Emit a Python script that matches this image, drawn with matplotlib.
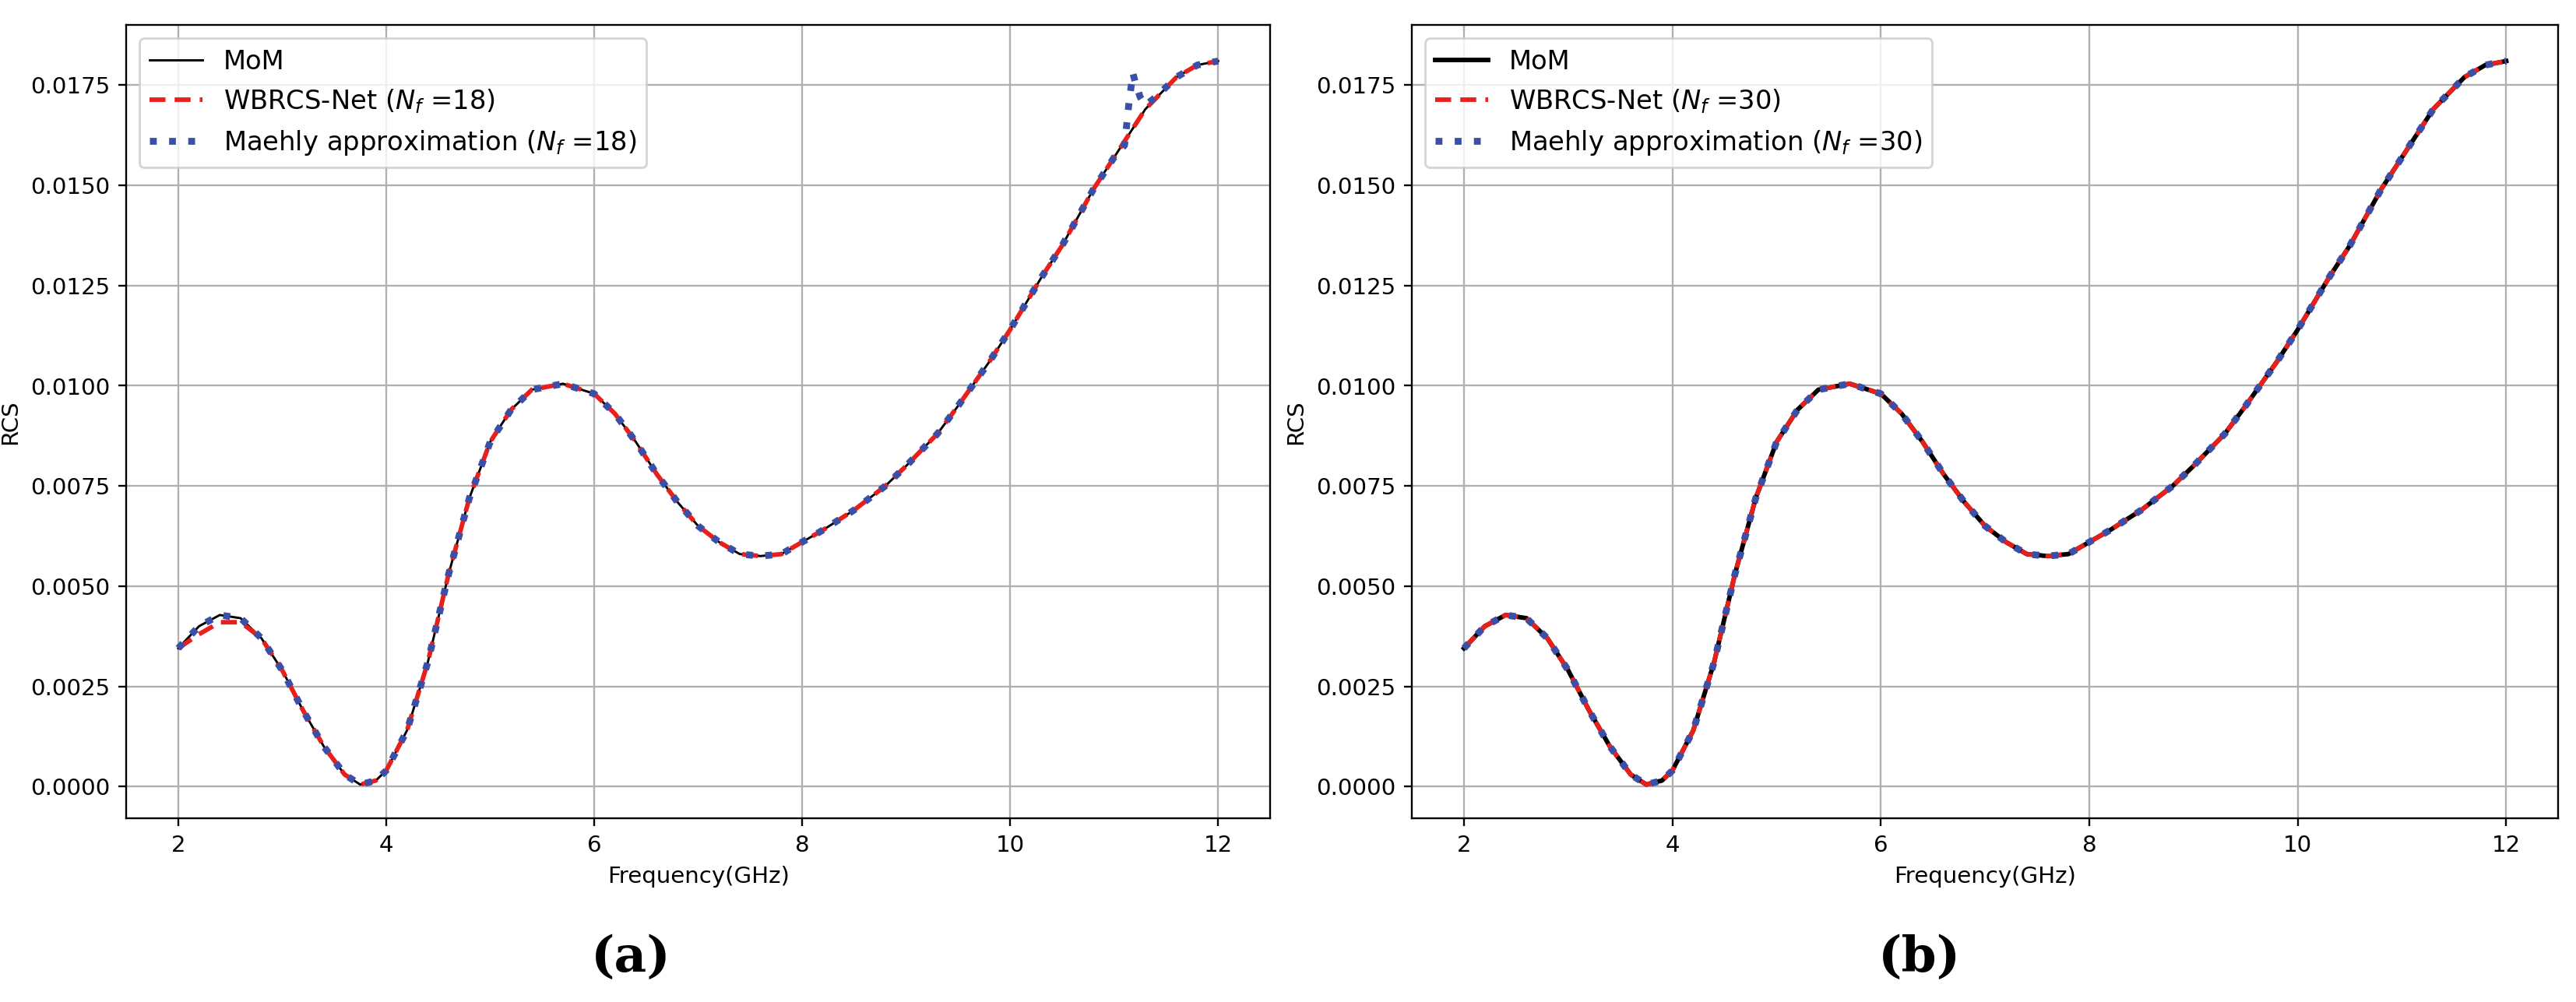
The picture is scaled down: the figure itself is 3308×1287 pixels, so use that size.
import matplotlib
matplotlib.use("Agg")
import matplotlib.pyplot as plt
import numpy as np

freq = [2.0, 2.2, 2.4, 2.6, 2.8, 3.0, 3.2, 3.4, 3.6, 3.75, 3.9, 4.0, 4.2, 4.4, 4.6,
        4.8, 5.0, 5.2, 5.4, 5.7, 6.0, 6.2, 6.4, 6.6, 6.8, 7.0, 7.2, 7.4, 7.6, 7.8,
        8.0, 8.2, 8.5, 8.8, 9.0, 9.3, 9.5, 9.8, 10.0, 10.3, 10.5, 10.8, 11.0, 11.1,
        11.3, 11.6, 11.8, 12.0]
mom = [0.00345, 0.0040, 0.00428, 0.0042, 0.0037, 0.0029, 0.0019, 0.0010, 0.0003, 0.00005,
       0.00015, 0.0004, 0.0014, 0.0031, 0.0053, 0.0072, 0.0086, 0.0094, 0.0099, 0.01005,
       0.0098, 0.0093, 0.0086, 0.0078, 0.0071, 0.0065, 0.0061, 0.0058, 0.00575, 0.0058,
       0.0061, 0.0064, 0.0069, 0.0075, 0.0080, 0.0088, 0.0095, 0.0106, 0.0114, 0.0127,
       0.0135, 0.0149, 0.0157, 0.0161, 0.0169, 0.0177, 0.0180, 0.0181]
wb18 = [0.00345, 0.0038, 0.0041, 0.0041, 0.0037] + mom[5:]
# Maehly (N_f=18) with a spurious spike near 11.15 GHz
mae18_f = freq[:43] + [11.1, 11.12, 11.14, 11.16, 11.18, 11.2, 11.25, 11.3, 11.4, 11.6, 11.8, 12.0]
mae18 = mom[:43] + [0.0160, 0.0165, 0.0170, 0.0174, 0.0178, 0.0176, 0.0172, 0.0170, 0.0172, 0.0177, 0.0180, 0.0181]
wb30 = mom
mae30 = mom

plt.rcParams['font.family'] = ['DejaVu Sans']
fig = plt.figure(figsize=(15.68, 6.1), dpi=211)
axa = fig.add_axes([0.049, 0.183, 0.444, 0.792])
axb = fig.add_axes([0.548, 0.183, 0.445, 0.792])

def draw(ax, wb, mf, mv, n, momlw):
    ax.plot(freq, mom, color='black', lw=momlw, label='MoM')
    ax.plot(freq, wb, color='#e8201c', lw=2, ls=(0, (3.5, 2)), label=r'WBRCS-Net ($N_f$ =%d)' % n)
    ax.plot(mf, mv, color='#3a4fa8', lw=3, ls=(0, (1, 1.8)), label=r'Maehly approximation ($N_f$ =%d)' % n)
    ax.set_xlim(1.5, 12.5)
    ax.set_ylim(-0.0008, 0.019)
    ax.set_xticks([2, 4, 6, 8, 10, 12])
    ax.set_yticks(np.arange(0, 0.0176, 0.0025))
    ax.yaxis.set_major_formatter(matplotlib.ticker.FormatStrFormatter('%.4f'))
    ax.grid(True, color='#b0b0b0')
    ax.set_xlabel('Frequency(GHz)')
    ax.set_ylabel('RCS')
    ax.legend(loc='upper left', fontsize=11.5)

draw(axa, wb18, mae18_f, mae18, 18, 1)
draw(axb, wb30, freq, mae30, 30, 2)
fig.text(0.245, 0.03, '(a)', ha='center', fontsize=22, family='DejaVu Serif', weight='bold')
fig.text(0.745, 0.03, '(b)', ha='center', fontsize=22, family='DejaVu Serif', weight='bold')
fig.savefig('out.png', dpi=211)
